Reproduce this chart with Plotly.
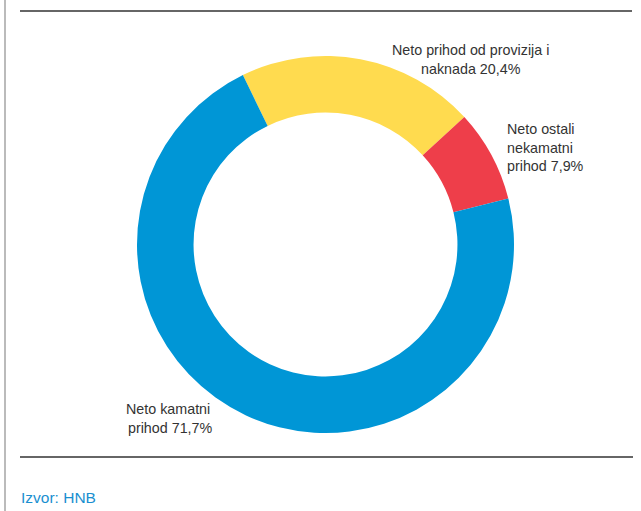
import plotly.graph_objects as go

W, H = 641, 511

# Structure of net income
labels = ["Neto prihod od provizija i naknada", "Neto ostali nekamatni prihod", "Neto kamatni prihod"]
values = [20.4, 7.9, 71.7]
colors = ["#FFDB4F", "#EE3E4A", "#0096D6"]
label_texts = ["Neto prihod od provizija i<br>naknada 20,4%",
               "Neto ostali<br>nekamatni<br>prihod 7,9%",
               "Neto kamatni<br> prihod 71,7%"]
source_text = "Izvor: HNB"


def px(x):
    return x / W


def py(y):
    return 1 - y / H


cx, cy, r = 325.5, 244.5, 188.5

fig = go.Figure(go.Pie(
    labels=labels,
    values=values,
    marker=dict(colors=colors, line=dict(width=0)),
    hole=0.70,
    sort=False,
    direction="clockwise",
    rotation=-26,
    textinfo="none",
    hoverinfo="label+percent",
    showlegend=False,
    domain=dict(x=[px(cx - r), px(cx + r)], y=[py(cy + r), py(cy - r)]),
))

font = dict(family="Liberation Sans, Arial", size=14.3, color="#333333")

fig.add_annotation(x=px(470), y=py(59), text=label_texts[0], showarrow=False,
                   xanchor="center", yanchor="middle", align="center", font=font)
fig.add_annotation(x=px(505), y=py(147.5), text=label_texts[1], showarrow=False,
                   xanchor="left", yanchor="middle", align="left", font=font)
fig.add_annotation(x=px(169), y=py(418), text=label_texts[2], showarrow=False,
                   xanchor="center", yanchor="middle", align="center", font=font)

fig.add_annotation(x=px(19), y=py(497), text=source_text, showarrow=False,
                   xanchor="left", yanchor="middle",
                   font=dict(family="Liberation Sans, Arial", size=15.5, color="#1A8FD0"))

# frame rules
fig.add_shape(type="line", xref="paper", yref="paper",
              x0=px(20), x1=px(632), y0=py(11), y1=py(11),
              line=dict(color="#333333", width=1.5))
fig.add_shape(type="line", xref="paper", yref="paper",
              x0=px(20), x1=px(633), y0=py(457), y1=py(457),
              line=dict(color="#333333", width=1.5))
fig.add_shape(type="line", xref="paper", yref="paper",
              x0=px(5), x1=px(5), y0=0, y1=1,
              line=dict(color="#BBBBBB", width=2))

fig.update_layout(
    width=W, height=H,
    margin=dict(l=0, r=0, t=0, b=0),
    paper_bgcolor="white",
    plot_bgcolor="white",
)

fig.write_html("out.html")
